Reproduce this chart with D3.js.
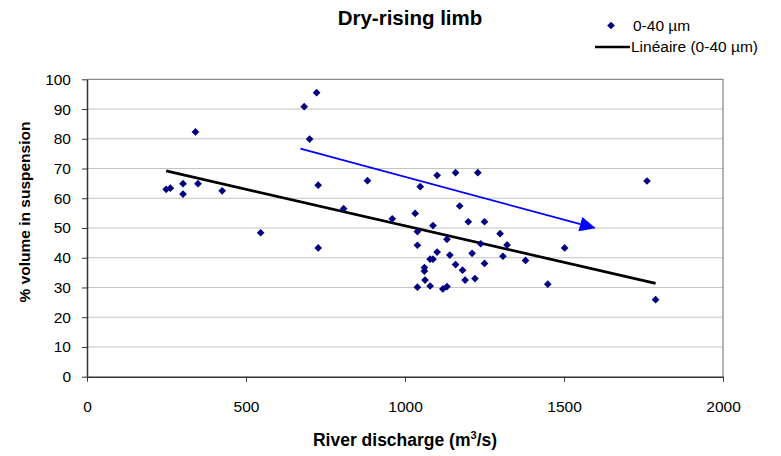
<!DOCTYPE html>
<html><head><meta charset="utf-8">
<script src="https://cdn.jsdelivr.net/npm/d3@7"></script>
<style>body{margin:0;background:#fff}svg{display:block}text{font-family:"Liberation Sans",Arial,sans-serif}</style>
</head><body><svg id="c" width="781" height="456"></svg>
<script>
const discharge = [249,262,302,302,341,349,425,546,683,722,700,727,727,
  807,882,960,1032,1039,1039,1048,1039,1063,1061,1061,1079,1079,1088,1088,1101,1101,
  1119,1132,1132,1141,1159,1159,1172,1181,1189,1199,1211,1220,1229,1238,1250,1250,
  1299,1308,1321,1379,1449,1502,1761,1788];
const volume = [63.0,63.4,64.9,61.4,82.3,64.9,62.5,48.4,90.8,95.5,79.9,64.4,43.3,
  56.5,65.9,53.1,54.9,48.8,44.2,63.9,30.1,32.5,36.7,35.5,30.5,39.5,39.5,50.8,41.9,67.7,
  29.5,30.3,46.2,40.9,68.6,37.7,57.4,35.8,32.5,52.1,41.5,33.0,68.6,44.7,52.1,38.1,
  48.1,40.5,44.3,39.1,31.1,43.3,65.8,25.9];
const trendX = [249,1788];
const trendY = [69.2,31.4];
const arrowX = [671,1600];
const arrowY = [76.7,49.9];
const xTicks = [0,500,1000,1500,2000];
const yTicks = [0,10,20,30,40,50,60,70,80,90,100];
const seriesName = "0-40 µm";
const trendName = "Linéaire (0-40 µm)";

const svg = d3.select("#c");
const L=87,R=723,T=79.3,B=376.7;
const x = d3.scaleLinear().domain([0,2000]).range([L,R]);
const y = d3.scaleLinear().domain([0,100]).range([B,T]);

// gridlines
svg.append("g").selectAll("line").data(yTicks.filter(d=>d>0&&d<100)).join("line")
  .attr("x1",L).attr("x2",R).attr("y1",d=>y(d)).attr("y2",d=>y(d))
  .attr("stroke","#c4c4c4").attr("stroke-width",1);
// border top/right
svg.append("path").attr("d",`M${L},${T}H${R}V${B}`).attr("fill","none").attr("stroke","#8c8c8c").attr("stroke-width",1.3);

const fmt = d3.format("d");
const xa = svg.append("g").attr("transform",`translate(0,${B})`)
  .call(d3.axisBottom(x).tickValues(xTicks).tickFormat(fmt).tickSize(5).tickPadding(19).tickSizeOuter(0));
const ya = svg.append("g").attr("transform",`translate(${L},0)`)
  .call(d3.axisLeft(y).tickValues(yTicks).tickFormat(fmt).tickSize(5).tickPadding(11).tickSizeOuter(0));
[xa,ya].forEach(a=>{
  a.select(".domain").attr("stroke","#333").attr("stroke-width",1.5);
  a.selectAll(".tick line").attr("stroke","#333");
  a.selectAll("text").attr("font-size",15.5).attr("fill","#000").attr("font-family","Liberation Sans, Arial");
});

// trend line
svg.append("line").attr("x1",x(trendX[0])).attr("y1",y(trendY[0])).attr("x2",x(trendX[1])).attr("y2",y(trendY[1]))
  .attr("stroke","#000").attr("stroke-width",2.7);

// arrow
const ax1=x(arrowX[0]),ay1=y(arrowY[0]),ax2=x(arrowX[1]),ay2=y(arrowY[1]);
const ang=Math.atan2(ay2-ay1,ax2-ax1);
const hl=16,hw=7.5;
const bx=ax2-hl*Math.cos(ang),by=ay2-hl*Math.sin(ang);
svg.append("line").attr("x1",ax1).attr("y1",ay1).attr("x2",bx).attr("y2",by).attr("stroke","#0000ff").attr("stroke-width",1.8);
svg.append("path").attr("d",`M${ax2},${ay2}L${bx+hw*Math.sin(ang)},${by-hw*Math.cos(ang)}L${bx-hw*Math.sin(ang)},${by+hw*Math.cos(ang)}Z`).attr("fill","#0000ff");

// points
const sym = d3.symbol().type(d3.symbolDiamond2).size(38);
svg.append("g").selectAll("path").data(discharge.map((d,i)=>[d,volume[i]])).join("path")
  .attr("d",sym).attr("transform",d=>`translate(${x(d[0])},${y(d[1])})`).attr("fill","#000080");

// titles
svg.append("text").attr("x",410).attr("y",25).attr("text-anchor","middle").attr("font-size",20.5).attr("font-weight","bold").text("Dry-rising limb");
const xt = svg.append("text").attr("x",405).attr("y",446).attr("text-anchor","middle").attr("font-size",17.5).attr("font-weight","bold");
xt.append("tspan").text("River discharge (m");
xt.append("tspan").attr("font-size",11).attr("dy",-7).text("3");
xt.append("tspan").attr("dy",7).text("/s)");
svg.append("text").attr("transform","translate(29.5,212) rotate(-90)").attr("text-anchor","middle").attr("font-size",15.5).attr("font-weight","bold").text("% volume in suspension");

// legend
svg.append("path").attr("d",sym).attr("transform","translate(611,25.5)").attr("fill","#000080");
svg.append("text").attr("x",633).attr("y",31).attr("font-size",15.5).text(seriesName);
svg.append("line").attr("x1",595).attr("x2",630).attr("y1",47).attr("y2",47).attr("stroke","#000").attr("stroke-width",2.7);
svg.append("text").attr("x",631).attr("y",52).attr("font-size",15.5).text(trendName);
</script></body></html>
